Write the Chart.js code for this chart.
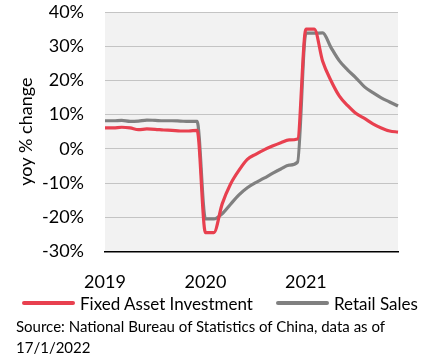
<!DOCTYPE html>
<html>
<head>
<meta charset="utf-8">
<script src="https://cdn.jsdelivr.net/npm/chart.js@4.4.1/dist/chart.umd.min.js"></script>
<style>
  html, body { margin: 0; padding: 0; background: #fff; }
  #wrap { position: relative; width: 438px; height: 358px; }
  canvas { position: absolute; left: 0; top: 0; }
  #legend { position: absolute; left: 22px; top: 292px; height: 22px; display: flex; align-items: center; font: 17px Lato, sans-serif; color: #000; white-space: nowrap; }
  #legend .item { display: flex; align-items: center; }
  #legend .swatch { width: 53px; height: 4px; border-radius: 2px; margin-right: 5px; }
  #legend .item + .item { margin-left: 23px; }
  #source { position: absolute; left: 16px; top: 316px; font: 15px Lato, sans-serif; line-height: 21px; color: #000; white-space: nowrap; }
</style>
</head>
<body>
<div id="wrap">
  <canvas id="myChart" width="438" height="313"></canvas>
  <div id="legend"></div>
  <div id="source">Source: National Bureau of Statistics of China, data as of<br>17/1/2022</div>
</div>
<script>
// monthly, year-to-date yoy % change (Jan and Feb reported together)
const months = [
  '2019-01','2019-02','2019-03','2019-04','2019-05','2019-06','2019-07','2019-08','2019-09','2019-10','2019-11','2019-12',
  '2020-01','2020-02','2020-03','2020-04','2020-05','2020-06','2020-07','2020-08','2020-09','2020-10','2020-11','2020-12',
  '2021-01','2021-02','2021-03','2021-04','2021-05','2021-06','2021-07','2021-08','2021-09','2021-10','2021-11','2021-12'
];
const yearTicks = ['2019', '2020', '2021'];

const fixedAssetInvestment = [
  6.1, 6.1, 6.3, 6.1, 5.6, 5.8, 5.7, 5.5, 5.4, 5.2, 5.2, 5.4,
  -24.5, -24.5, -16.1, -10.3, -6.3, -3.1, -1.6, -0.3, 0.8, 1.8, 2.6, 2.9,
  35.0, 35.0, 25.6, 19.9, 15.4, 12.6, 10.3, 8.9, 7.3, 6.1, 5.2, 4.9
];
const retailSales = [
  8.2, 8.2, 8.3, 8.0, 8.1, 8.4, 8.3, 8.2, 8.2, 8.1, 8.0, 8.0,
  -20.5, -20.5, -19.0, -16.2, -13.5, -11.4, -9.9, -8.6, -7.2, -5.9, -4.8, -3.9,
  33.8, 33.8, 33.9, 29.6, 25.7, 23.0, 20.7, 18.1, 16.4, 14.9, 13.7, 12.5
];

const RED = '#e8404f';
const GREY = '#808080';
const FONT = 'Lato, sans-serif';

// light grey fill behind the plot
const plotBg = {
  id: 'plotBg',
  beforeDraw(chart) {
    const { ctx, chartArea: a } = chart;
    ctx.save();
    ctx.fillStyle = '#f2f2f2';
    ctx.fillRect(a.left, a.top, a.right - a.left, a.bottom - a.top);
    ctx.restore();
  }
};

const chart = new Chart(document.getElementById('myChart'), {
  type: 'line',
  data: {
    labels: months,
    datasets: [
      {
        label: 'Fixed Asset Investment',
        data: fixedAssetInvestment,
        borderColor: RED,
        backgroundColor: RED,
        borderWidth: 3.2,
        pointRadius: 0,
        cubicInterpolationMode: 'monotone'
      },
      {
        label: 'Retail Sales',
        data: retailSales,
        borderColor: GREY,
        backgroundColor: GREY,
        borderWidth: 3.2,
        pointRadius: 0,
        cubicInterpolationMode: 'monotone'
      }
    ]
  },
  options: {
    responsive: false,
    animation: false,
    layout: { padding: { top: 12, left: 0, right: 0, bottom: 0 } },
    scales: {
      x: {
        offset: false,
        grid: { display: false, drawTicks: false },
        border: { display: true, color: '#000', width: 1.5 },
        ticks: {
          autoSkip: false,
          maxRotation: 0,
          padding: 20,
          color: '#000',
          font: { family: FONT, size: 18 },
          callback: (v, i) => (i % 12 === 0 ? yearTicks[i / 12] : '')
        }
      },
      y: {
        min: -30,
        max: 40,
        afterFit: s => {
          s.width = 105;
          // tick padding is horizontal here; don't let it push the plot top down
          s.paddingTop = 11;
          s.paddingBottom = 11;
        },
        border: { display: false },
        grid: { color: '#c4c4c4', borderDash: [2, 2], lineWidth: 1, drawTicks: false },
        ticks: {
          stepSize: 10,
          autoSkip: false,
          padding: 21,
          color: '#000',
          font: { family: FONT, size: 18 },
          callback: v => v + '%'
        },
        title: {
          display: true,
          text: 'yoy % change',
          color: '#000',
          font: { family: FONT, size: 18 },
          padding: { top: 15, bottom: 0 }
        }
      },
      y2: {
        position: 'right',
        display: true,
        afterFit: s => { s.width = 40; s.paddingTop = 0; s.paddingBottom = 0; },
        grid: { display: false, drawTicks: false },
        border: { display: false },
        ticks: { display: false }
      }
    },
    plugins: {
      tooltip: { enabled: false },
      legend: { display: false }
    }
  },
  plugins: [plotBg]
});

// legend built from the chart's datasets
const legendEl = document.getElementById('legend');
chart.data.datasets.forEach(ds => {
  const item = document.createElement('span');
  item.className = 'item';
  const sw = document.createElement('span');
  sw.className = 'swatch';
  sw.style.background = ds.borderColor;
  const txt = document.createElement('span');
  txt.textContent = ds.label;
  item.appendChild(sw);
  item.appendChild(txt);
  legendEl.appendChild(item);
});
</script>
</body>
</html>
